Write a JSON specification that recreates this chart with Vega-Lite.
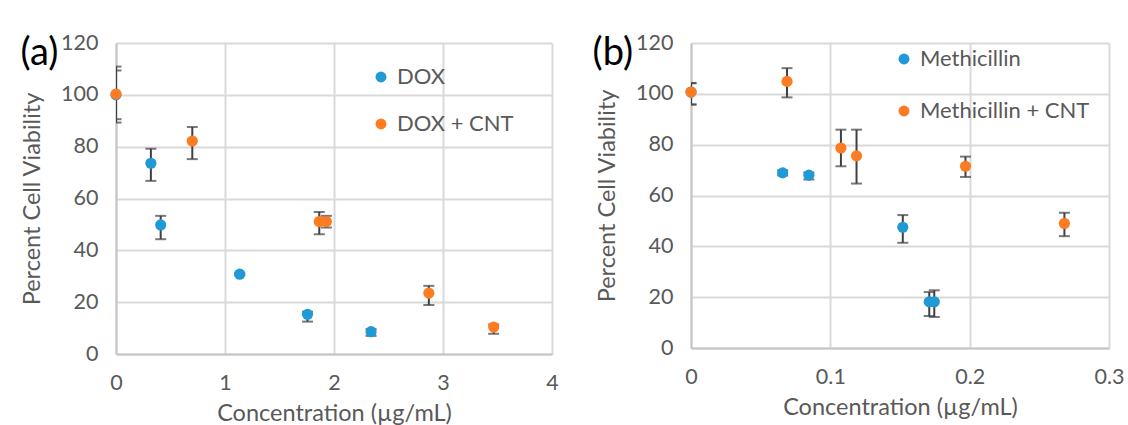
{
  "$schema": "https://vega.github.io/schema/vega-lite/v6.json",
  "padding": {"left": 20, "top": 32, "right": 0, "bottom": 0},
  "background": "white",
  "datasets": {
    "a": [
      {"series": "DOX", "x": 0, "y": 100, "lo": 90.6, "hi": 109.4},
      {"series": "DOX", "x": 0.32, "y": 73.6, "lo": 66.8, "hi": 79.2},
      {"series": "DOX", "x": 0.41, "y": 49.8, "lo": 44.3, "hi": 53.3},
      {"series": "DOX", "x": 1.135, "y": 30.8, "lo": 30.3, "hi": 31.3},
      {"series": "DOX", "x": 1.757, "y": 15.3, "lo": 12.5, "hi": 16.3},
      {"series": "DOX", "x": 2.34, "y": 8.6, "lo": 7, "hi": 9.6},
      {"series": "DOX + CNT", "x": 0, "y": 100.3, "lo": 89.3, "hi": 110.9},
      {"series": "DOX + CNT", "x": 0.7, "y": 82.2, "lo": 75.2, "hi": 87.6},
      {"series": "DOX + CNT", "x": 1.865, "y": 51.1, "lo": 46.2, "hi": 54.8},
      {"series": "DOX + CNT", "x": 1.93, "y": 51.1, "lo": 48.8, "hi": 53.3},
      {"series": "DOX + CNT", "x": 2.87, "y": 23.5, "lo": 18.9, "hi": 26.3},
      {"series": "DOX + CNT", "x": 3.465, "y": 10.4, "lo": 7.8, "hi": 11.4}
    ],
    "b": [
      {"series": "Methicillin", "x": 0, "y": 100.7, "lo": 95.8, "hi": 104.2},
      {"series": "Methicillin", "x": 0.0658, "y": 68.9, "lo": 67.9, "hi": 69.9},
      {"series": "Methicillin", "x": 0.0846, "y": 68.0, "lo": 66.3, "hi": 69.0},
      {"series": "Methicillin", "x": 0.152, "y": 47.5, "lo": 41.4, "hi": 52.3},
      {"series": "Methicillin", "x": 0.171, "y": 18.2, "lo": 12.6, "hi": 22},
      {"series": "Methicillin", "x": 0.1746, "y": 18.2, "lo": 12.2, "hi": 22.7},
      {"series": "Methicillin + CNT", "x": 0, "y": 100.7, "lo": 95.8, "hi": 104.2},
      {"series": "Methicillin + CNT", "x": 0.0689, "y": 104.9, "lo": 98.6, "hi": 110.1},
      {"series": "Methicillin + CNT", "x": 0.1076, "y": 78.7, "lo": 71.5, "hi": 85.9},
      {"series": "Methicillin + CNT", "x": 0.1188, "y": 75.6, "lo": 64.7, "hi": 85.9},
      {"series": "Methicillin + CNT", "x": 0.197, "y": 71.5, "lo": 67.3, "hi": 75.3},
      {"series": "Methicillin + CNT", "x": 0.268, "y": 49.0, "lo": 44.0, "hi": 53.2}
    ]
  },
  "hconcat": [
    {
      "width": 436,
      "height": 311,
      "data": {"name": "a"},
      "title": {"text": "(a)", "anchor": "start", "frame": "bounds", "fontSize": 38, "font": "Lato", "color": "#000000", "fontWeight": "normal", "offset": -41, "dx": 0},
      "layer": [
        {
          "mark": {"type": "errorbar", "ticks": {"size": 11, "thickness": 2, "color": "#404040"}, "thickness": 2, "color": "#404040", "clip": true},
          "encoding": {
            "x": {"field": "x", "type": "quantitative", "scale": {"domain": [0, 4]}, "axis": {"title": "Concentration (µg/mL)", "values": [0, 1, 2, 3, 4], "format": "d"}},
            "y": {"field": "lo", "type": "quantitative", "scale": {"domain": [0, 120]}, "axis": {"title": "Percent Cell Viability", "values": [0, 20, 40, 60, 80, 100, 120]}},
            "y2": {"field": "hi"}
          }
        },
        {
          "mark": {"type": "circle", "size": 125, "opacity": 1},
          "encoding": {
            "x": {"field": "x", "type": "quantitative", "scale": {"domain": [0, 4]}, "axis": {"title": "Concentration (µg/mL)", "values": [0, 1, 2, 3, 4], "format": "d"}},
            "y": {"field": "y", "type": "quantitative", "scale": {"domain": [0, 120]}, "axis": {"title": "Percent Cell Viability", "values": [0, 20, 40, 60, 80, 100, 120]}},
            "color": {"field": "series", "type": "nominal", "scale": {"domain": ["DOX", "DOX + CNT"], "range": ["#1f9ad6", "#fd7b21"]},
              "legend": {"title": null, "orient": "none", "legendX": 254, "legendY": 23, "rowPadding": 25}}
          }
        }
      ]
    },
    {
      "width": 418,
      "height": 305,
      "data": {"name": "b"},
      "title": {"text": "(b)", "anchor": "start", "frame": "bounds", "fontSize": 38, "font": "Lato", "color": "#000000", "fontWeight": "normal", "offset": -41, "dx": -3},
      "layer": [
        {
          "mark": {"type": "errorbar", "ticks": {"size": 11, "thickness": 2, "color": "#404040"}, "thickness": 2, "color": "#404040", "clip": true},
          "encoding": {
            "x": {"field": "x", "type": "quantitative", "scale": {"domain": [0, 0.3]}, "axis": {"title": "Concentration (µg/mL)", "values": [0, 0.1, 0.2, 0.3], "format": "~g"}},
            "y": {"field": "lo", "type": "quantitative", "scale": {"domain": [0, 120]}, "axis": {"title": "Percent Cell Viability", "values": [0, 20, 40, 60, 80, 100, 120]}},
            "y2": {"field": "hi"}
          }
        },
        {
          "mark": {"type": "circle", "size": 125, "opacity": 1},
          "encoding": {
            "x": {"field": "x", "type": "quantitative", "scale": {"domain": [0, 0.3]}, "axis": {"title": "Concentration (µg/mL)", "values": [0, 0.1, 0.2, 0.3], "format": "~g"}},
            "y": {"field": "y", "type": "quantitative", "scale": {"domain": [0, 120]}, "axis": {"title": "Percent Cell Viability", "values": [0, 20, 40, 60, 80, 100, 120]}},
            "color": {"field": "series", "type": "nominal", "scale": {"domain": ["Methicillin", "Methicillin + CNT"], "range": ["#1f9ad6", "#fd7b21"]},
              "legend": {"title": null, "orient": "none", "legendX": 202, "legendY": 5, "rowPadding": 30}}
          }
        }
      ]
    }
  ],
  "spacing": 33,
  "resolve": {"scale": {"color": "independent", "x": "independent", "y": "independent"}, "legend": {"color": "independent"}},
  "config": {
    "font": "Lato",
    "view": {"stroke": null},
    "axis": {
      "gridColor": "#d9d9d9",
      "gridWidth": 2,
      "domainColor": "#c6c6c6",
      "domainWidth": 2,
      "ticks": false,
      "labelColor": "#595959",
      "labelFontSize": 21.5,
      "labelFont": "Lato",
      "titleColor": "#595959",
      "titleFontSize": 23.5,
      "titleFont": "Lato",
      "titleFontWeight": "normal",
      "labelPadding": 18
    },
    "axisX": {"titlePadding": 8, "labelFlush": false},
    "axisY": {"titlePadding": 16},
    "legend": {
      "labelFontSize": 22,
      "labelColor": "#595959",
      "labelFont": "Lato",
      "labelLimit": 0,
      "symbolType": "circle",
      "symbolSize": 120,
      "symbolStrokeWidth": 0,
      "symbolOpacity": 1,
      "labelOffset": 5,
      "padding": 0
    }
  }
}
